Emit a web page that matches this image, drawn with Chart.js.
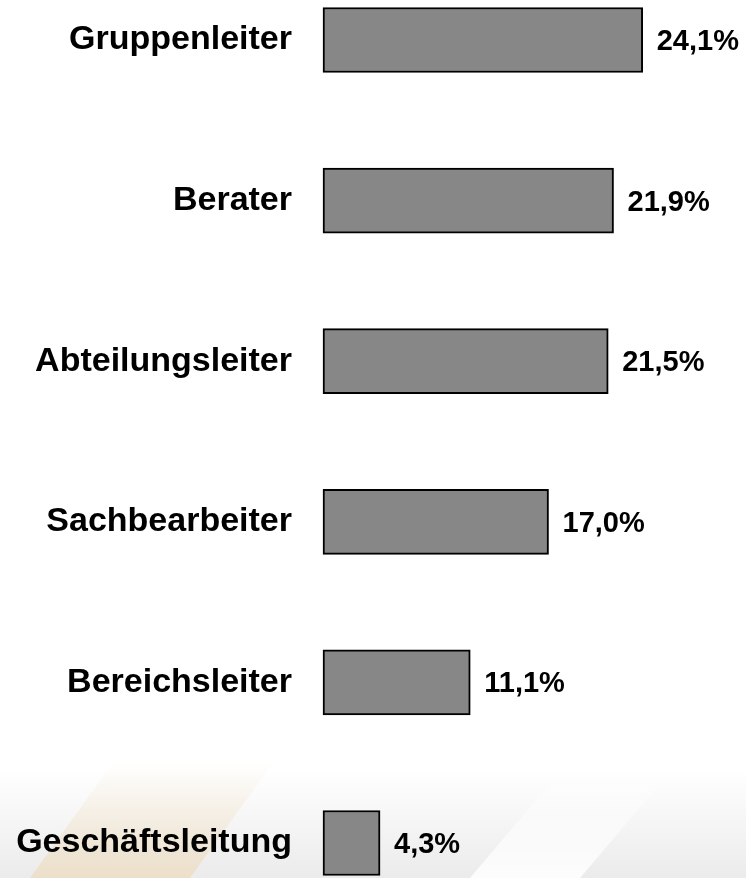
<!DOCTYPE html>
<html lang="de">
<head>
<meta charset="UTF-8">
<title>Positionen</title>
<script src="https://cdn.jsdelivr.net/npm/chart.js@4.4.1/dist/chart.umd.min.js"></script>
<style>
    html, body { margin: 0; padding: 0; background: #fff; }
    .wrap { position: relative; width: 746px; height: 878px; overflow: hidden; }
    .bg { position: absolute; left: 0; width: 746px; }
    .shade { top: 770px; height: 108px;
        background: linear-gradient(to bottom, rgba(225,225,225,0), rgba(215,215,215,0.5)); }
    .orange { top: 760px; height: 118px;
        clip-path: polygon(30px 118px, 190px 118px, 275px 0, 115px 0);
        background: linear-gradient(to bottom, rgba(245,225,195,0), rgba(238,212,170,0.5)); }
    .stripe { top: 760px; height: 118px;
        clip-path: polygon(470px 118px, 580px 118px, 680px 0, 570px 0);
        background: linear-gradient(to bottom, rgba(255,255,255,0), rgba(255,255,255,0.9)); }
    canvas { position: absolute; left: 0; top: 0; }
</style>
</head>
<body>
<div class="wrap">
    <div class="bg shade"></div>
    <div class="bg orange"></div>
    <div class="bg stripe"></div>
    <canvas id="chart" width="746" height="878"></canvas>
</div>
<script>
    // Anteile nach Position (%)
    const categories = ['Gruppenleiter', 'Berater', 'Abteilungsleiter', 'Sachbearbeiter', 'Bereichsleiter', 'Geschäftsleitung'];
    const shares = [24.1, 21.9, 21.5, 17.0, 11.1, 4.3];
    const valueLabels = ['24,1%', '21,9%', '21,5%', '17,0%', '11,1%', '4,3%'];

    // value labels right of each bar
    const barLabels = {
        id: 'barLabels',
        afterDatasetsDraw(chart) {
            const ctx = chart.ctx;
            const meta = chart.getDatasetMeta(0);
            ctx.save();
            ctx.font = 'bold 29px "Liberation Sans", Arial, sans-serif';
            ctx.fillStyle = '#000';
            ctx.textAlign = 'left';
            ctx.textBaseline = 'middle';
            meta.data.forEach((bar, i) => {
                ctx.fillText(valueLabels[i], bar.x + 14, bar.y + 2);
            });
            ctx.restore();
        }
    };

    new Chart(document.getElementById('chart'), {
        type: 'bar',
        data: {
            labels: categories,
            datasets: [{
                data: shares,
                backgroundColor: '#878787',
                borderColor: '#000',
                borderWidth: 2,
                borderSkipped: false,
                barThickness: 65,
                clip: false
            }]
        },
        options: {
            indexAxis: 'y',
            responsive: false,
            animation: false,
            layout: { padding: { top: 40, bottom: 35, left: 0, right: 25 } },
            plugins: {
                legend: { display: false },
                tooltip: { enabled: false }
            },
            scales: {
                x: { display: false, min: 0, max: 30 },
                y: {
                    offset: false,
                    grid: { display: false, drawTicks: false },
                    border: { display: false },
                    ticks: {
                        color: '#000',
                        padding: 31,
                        font: { family: '"Liberation Sans", Arial, sans-serif', size: 34, weight: 'bold' }
                    },
                    afterFit(scale) {
                        scale.width = 323;
                        scale.paddingTop = 0;
                        scale.paddingBottom = 0;
                    }
                }
            }
        },
        plugins: [barLabels]
    });
</script>
</body>
</html>
